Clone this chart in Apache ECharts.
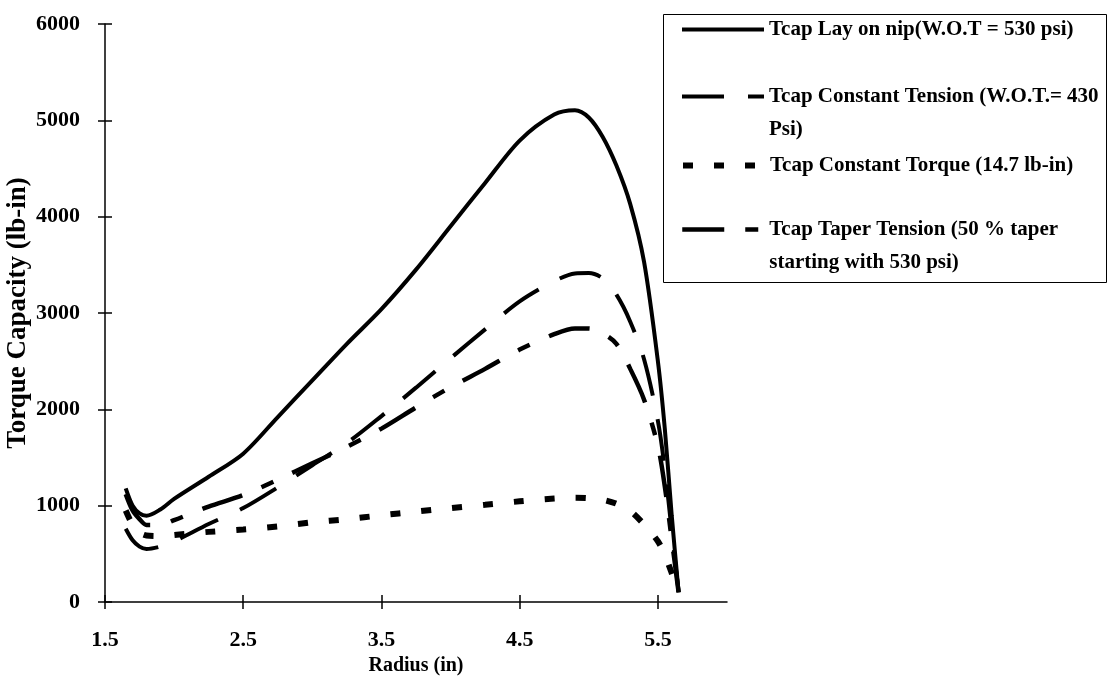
<!DOCTYPE html>
<html>
<head>
<meta charset="utf-8">
<title>Torque Capacity vs Radius</title>
<script src="https://cdn.jsdelivr.net/npm/echarts@6/dist/echarts.min.js"></script>
<style>
  html, body { margin: 0; padding: 0; background: #fff; }
  #chart { width: 1107px; height: 681px; }
</style>
</head>
<body>
<div id="chart"></div>
<script>
// radius (in) where each curve was read
const radius = [1.65, 1.7, 1.75, 1.8, 1.9, 2.0, 2.25, 2.5, 2.75, 3.0, 3.25, 3.5, 3.75, 4.0, 4.25, 4.5, 4.75, 4.9, 5.0, 5.1, 5.2, 5.3, 5.4, 5.5, 5.55, 5.6, 5.65];

// torque capacity (lb-in)
const layOnNip = [1180, 1000, 920, 895, 960, 1070, 1300, 1540, 1920, 2300, 2680, 3040, 3450, 3900, 4350, 4790, 5060, 5105, 5030, 4830, 4530, 4130, 3530, 2500, 1800, 900, 100];
const constTension = [760, 640, 575, 550, 575, 630, 810, 975, 1190, 1420, 1650, 1930, 2225, 2530, 2830, 3120, 3330, 3410, 3415, 3360, 3190, 2910, 2520, 1880, 1380, 740, 100];
const constTorque = [950, 800, 720, 690, 685, 695, 728, 752, 785, 828, 860, 900, 938, 975, 1010, 1045, 1075, 1083, 1078, 1062, 1020, 945, 805, 630, 490, 300, 100];
const taperTension = [1120, 950, 860, 800, 800, 850, 990, 1110, 1270, 1440, 1610, 1800, 2020, 2230, 2420, 2620, 2780, 2840, 2840, 2790, 2680, 2420, 2100, 1620, 1200, 650, 100];

const seriesNames = [
  "Tcap Lay on nip(W.O.T = 530 psi)",
  "Tcap Constant Tension (W.O.T.= 430 Psi)",
  "Tcap Constant Torque (14.7 lb-in)",
  "Tcap Taper Tension (50 % taper starting with 530 psi)"
];
// leading blank line keeps the sample line level with the first text row
const legendLabels = [
  "Tcap Lay on nip(W.O.T = 530 psi)",
  "\nTcap Constant Tension (W.O.T.= 430\nPsi)",
  "Tcap Constant Torque (14.7 lb-in)",
  "\nTcap Taper Tension (50 % taper\nstarting with 530 psi)"
];
const xTicks = [1.5, 2.5, 3.5, 4.5, 5.5];

const font = "Liberation Serif";
const lineStyles = [
  { color: "#000", width: 4, type: "solid" },
  { color: "#000", width: 4, type: [42, 24] },
  { color: "#000", width: 6, type: [10, 21] },
  { color: "#000", width: 4.5, type: [42, 21, 13, 21] }
];

function pairs(values) {
  return radius.map((r, i) => [r, values[i]]);
}

const chart = echarts.init(document.getElementById("chart"));

// one legend per entry so the rows sit like the original box
function makeLegend(i, top) {
  return {
    show: true,
    data: [seriesNames[i]],
    orient: "vertical",
    left: 680,
    top: top,
    padding: 0,
    itemWidth: 82,
    itemHeight: 14,
    selectedMode: false,
    formatter: () => legendLabels[i],
    itemStyle: { color: "rgba(0,0,0,0)", borderWidth: 0, opacity: 0 },
    lineStyle: lineStyles[i],
    textStyle: {
      fontFamily: font,
      fontWeight: "bold",
      fontSize: 21,
      color: "#000",
      lineHeight: 33
    }
  };
}

function makeSeries(i, values) {
  return {
    name: seriesNames[i],
    type: "line",
    data: pairs(values),
    smooth: 0.3,
    symbol: "none",
    itemStyle: { color: "#000" },
    lineStyle: lineStyles[i],
    z: i === 0 ? 5 : 3
  };
}

const option = {
  animation: false,
  backgroundColor: "#fff",
  grid: {
    left: 105,
    top: 24,
    width: 622,
    height: 578,
    outerBoundsMode: "none"
  },
  graphic: [
    {
      type: "rect",
      left: 663,
      top: 14,
      shape: { width: 443, height: 268 },
      style: { fill: "#fff", stroke: "#000", lineWidth: 1 },
      z: 0
    }
  ],
  legend: [
    makeLegend(0, 13),
    makeLegend(1, 47),
    makeLegend(2, 149),
    makeLegend(3, 180)
  ],
  xAxis: [
    {
      type: "value",
      min: 1.5,
      max: 6,
      interval: 1,
      name: "Radius (in)",
      nameLocation: "middle",
      nameGap: 50,
      nameTextStyle: { fontFamily: font, fontWeight: "bold", fontSize: 20, color: "#000" },
      axisLine: { lineStyle: { color: "#000", width: 1.5 } },
      axisTick: { length: 7, customValues: xTicks, lineStyle: { color: "#000", width: 1.5 } },
      axisLabel: {
        customValues: xTicks,
        margin: 27,
        fontFamily: font,
        fontWeight: "bold",
        fontSize: 22,
        color: "#000",
        formatter: v => v.toFixed(1)
      },
      splitLine: { show: false }
    },
    {
      type: "value",
      min: 1.5,
      max: 6,
      interval: 1,
      position: "bottom",
      axisLine: { show: false },
      axisTick: { inside: true, length: 7, customValues: xTicks, lineStyle: { color: "#000", width: 1.5 } },
      axisLabel: { show: false },
      splitLine: { show: false }
    }
  ],
  yAxis: [
    {
      type: "value",
      min: 0,
      max: 6000,
      interval: 1000,
      name: "Torque Capacity (lb-in)",
      nameLocation: "middle",
      nameGap: 73,
      nameMoveOverlap: false,
      nameTextStyle: { fontFamily: font, fontWeight: "bold", fontSize: 27, color: "#000" },
      axisLine: { show: true, lineStyle: { color: "#000", width: 1.5 } },
      axisTick: { show: true, length: 7, lineStyle: { color: "#000", width: 1.5 } },
      axisLabel: {
        margin: 25,
        fontFamily: font,
        fontWeight: "bold",
        fontSize: 22,
        color: "#000",
        formatter: v => String(v)
      },
      splitLine: { show: false }
    },
    {
      type: "value",
      min: 0,
      max: 6000,
      interval: 1000,
      position: "left",
      axisLine: { show: false },
      axisTick: { show: true, inside: true, length: 7, lineStyle: { color: "#000", width: 1.5 } },
      axisLabel: { show: false },
      splitLine: { show: false }
    }
  ],
  series: [
    makeSeries(0, layOnNip),
    makeSeries(1, constTension),
    makeSeries(2, constTorque),
    makeSeries(3, taperTension)
  ]
};

chart.setOption(option);
</script>
</body>
</html>
